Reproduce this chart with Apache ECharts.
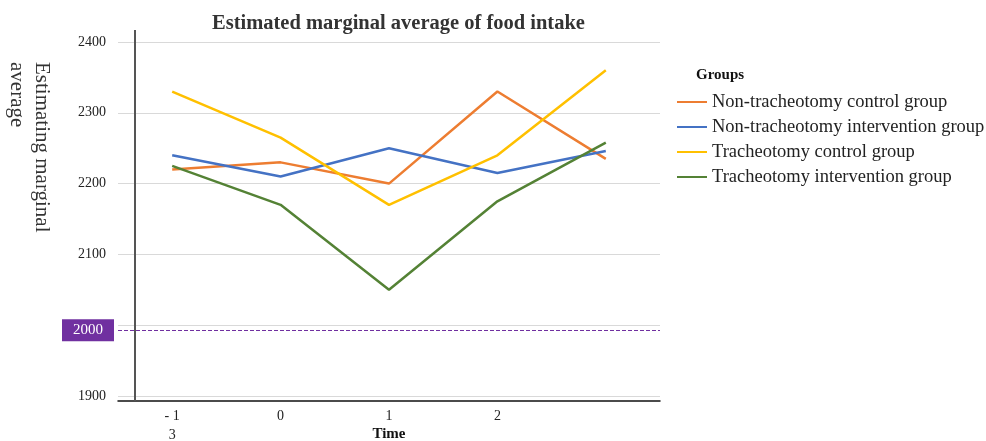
<!DOCTYPE html>
<html>
<head>
<meta charset="utf-8">
<script src="https://cdn.jsdelivr.net/npm/echarts@6/dist/echarts.min.js"></script>
<style>
  html, body { margin: 0; padding: 0; background: #fff; }
  #main { width: 986px; height: 441px; }
</style>
</head>
<body>
<div id="main"></div>
<script>
// time points and the labels printed under them
var timePoints = ['-1', '0', '1', '2', '3'];
var timeLabels = ['- 1\n3', '0', '1', '2', ''];

// estimated marginal averages per group
var groupNames = [
    'Non-tracheotomy control group',
    'Non-tracheotomy intervention group',
    'Tracheotomy control group',
    'Tracheotomy intervention group'
];
var nonTrachControl = [2220, 2230, 2200, 2330, 2235];
var nonTrachIntervention = [2240, 2210, 2250, 2215, 2246];
var trachControl = [2330, 2265, 2170, 2240, 2360];
var trachIntervention = [2225, 2170, 2050, 2175, 2258];

// reference line (drawn a little under the 2000 grid line in the original)
var refValue = 1993;
var refLabel = '2000';

var colors = ['#ED7D31', '#4472C4', '#FFC000', '#548235'];
var serif = 'Liberation Serif';

var myChart = echarts.init(document.getElementById('main'));

function lineSeries(name, data, color) {
    return {
        name: name,
        type: 'line',
        data: data,
        symbol: 'none',
        lineStyle: { color: color, width: 2.5 },
        itemStyle: { color: color }
    };
}

var series = [
    lineSeries(groupNames[0], nonTrachControl, colors[0]),
    lineSeries(groupNames[1], nonTrachIntervention, colors[1]),
    lineSeries(groupNames[2], trachControl, colors[2]),
    lineSeries(groupNames[3], trachIntervention, colors[3])
];
//参考线
series[0].markLine = {
    silent: true,
    symbol: 'none',
    lineStyle: { color: '#7030A0', type: 'dashed', width: 1 },
    label: {
        position: 'start',
        distance: 4,
        formatter: refLabel,
        color: '#fff',
        backgroundColor: '#7030A0',
        padding: [4, 11, 3, 11],
        fontFamily: serif,
        fontSize: 15
    },
    data: [{ yAxis: refValue }]
};

var option = {
    backgroundColor: '#fff',
    animation: false,
    title: [{
        text: 'Estimated marginal average of food intake',
        left: 207,
        top: 8,
        textStyle: { fontFamily: serif, fontWeight: 'bold', fontSize: 20.5, color: '#333' }
    }, {
        text: 'Groups',
        left: 691,
        top: 63,
        textStyle: { fontFamily: serif, fontWeight: 'bold', fontSize: 15, color: '#111' }
    }],
    legend: {
        orient: 'vertical',
        left: 672,
        top: 87,
        icon: 'rect',
        itemWidth: 30,
        itemHeight: 2,
        itemGap: 5,
        textStyle: { fontFamily: serif, fontSize: 18.5, color: '#222', lineHeight: 20 },
        data: groupNames
    },
    grid: {
        left: 118,
        right: 326,
        top: 42,
        bottom: 45,
        outerBoundsMode: 'none',
        containLabel: false
    },
    xAxis: {
        type: 'category',
        data: timePoints,
        boundaryGap: true,
        offset: 5,
        name: 'Time',
        nameLocation: 'middle',
        nameGap: 26,
        nameMoveOverlap: false,
        nameTextStyle: { fontFamily: serif, fontWeight: 'bold', fontSize: 15, color: '#111' },
        axisLine: { lineStyle: { color: '#111', width: 1.5 } },
        axisTick: { show: false },
        axisLabel: {
            margin: 6,
            fontFamily: serif,
            fontSize: 14,
            color: '#222',
            lineHeight: 19,
            formatter: function (v, i) { return timeLabels[i]; }
        }
    },
    yAxis: {
        type: 'value',
        min: 1900,
        max: 2400,
        interval: 100,
        axisLine: { show: false },
        axisTick: { show: false },
        axisLabel: {
            margin: 12,
            fontFamily: serif,
            fontSize: 14,
            color: '#222',
            // the 2000 tick sits under the reference-line box
            formatter: function (v) { return v === 2000 ? '' : String(v); }
        },
        splitLine: { lineStyle: { color: '#d9d9d9', width: 1 } }
    },
    graphic: [{
        // vertical axis line sits a bit right of the grid edge
        type: 'line',
        shape: { x1: 135, y1: 30, x2: 135, y2: 401 },
        style: { stroke: '#555', lineWidth: 2 },
        z: 10
    }, {
        type: 'text',
        x: 54,
        y: 62,
        rotation: -Math.PI / 2,
        style: {
            text: 'Estimating marginal\naverage',
            font: '21px "Liberation Serif"',
            fill: '#333',
            textAlign: 'left',
            textVerticalAlign: 'top',
            lineHeight: 25
        }
    }],
    series: series
};

myChart.setOption(option);
</script>
</body>
</html>
